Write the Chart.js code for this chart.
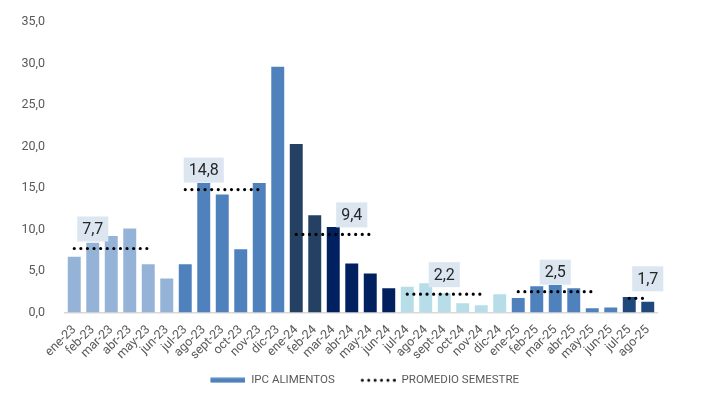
<!DOCTYPE html>
<html>
<head>
<meta charset="utf-8">
<script src="https://cdn.jsdelivr.net/npm/chart.js"></script>
<style>
  html, body { margin: 0; background: #fff; }
  #wrap { width: 720px; height: 399px; }
</style>
</head>
<body>
<div id="wrap"><canvas id="myChart"></canvas></div>
<script>
    // months on the x axis
    const months = ['ene-23', 'feb-23', 'mar-23', 'abr-23', 'may-23', 'jun-23',
        'jul-23', 'ago-23', 'sept-23', 'oct-23', 'nov-23', 'dic-23',
        'ene-24', 'feb-24', 'mar-24', 'abr-24', 'may-24', 'jun-24',
        'jul-24', 'ago-24', 'sept-24', 'oct-24', 'nov-24', 'dic-24',
        'ene-25', 'feb-25', 'mar-25', 'abr-25', 'may-25', 'jun-25',
        'jul-25', 'ago-25'];

    // monthly food CPI (%)
    const ipcAlimentos = [6.7, 8.4, 9.2, 10.1, 5.8, 4.1,
        5.8, 15.6, 14.2, 7.6, 15.6, 29.6,
        20.3, 11.7, 10.3, 5.9, 4.7, 2.9,
        3.1, 3.5, 2.3, 1.1, 0.85, 2.2,
        1.75, 3.15, 3.3, 2.9, 0.5, 0.6,
        1.85, 1.3];

    // semester average, drawn as dotted segments
    const promedioSemestre = [7.7, 7.7, 7.7, 7.7, 7.7, null,
        14.8, 14.8, 14.8, 14.8, 14.8, null,
        9.4, 9.4, 9.4, 9.4, 9.4, null,
        2.2, 2.2, 2.2, 2.2, 2.2, null,
        2.5, 2.5, 2.5, 2.5, 2.5, null,
        1.7, 1.7];

    // bar colour per semester
    const semColors = ['#95b3d7', '#4f81bd', '#244062', '#b7dee8', '#4f81bd', '#1f497d'];
    const barColors = months.map((m, i) => {
        if (i >= 12 && i < 14) return '#244062';
        if (i >= 14 && i < 18) return '#002060';
        return semColors[Math.floor(i / 6)];
    });

    const fmt = v => v.toFixed(1).replace('.', ',');

    // legend swatches (drawn at the right of a 59px box)
    function makeSwatch(kind) {
        const c = document.createElement('canvas');
        c.width = 59; c.height = 6;
        const g = c.getContext('2d');
        if (kind === 'bar') {
            g.fillStyle = '#4f81bd';
            g.fillRect(24, 0.5, 35, 5);
        } else {
            g.fillStyle = '#000';
            for (let i = 0; i < 6; i++) {
                g.beginPath();
                g.arc(25.5 + i * 6.4, 3, 1.5, 0, Math.PI * 2);
                g.fill();
            }
        }
        return c;
    }
    const barSwatch = makeSwatch('bar');
    const dotSwatch = makeSwatch('dots');

    // boxed value labels above each average line
    const avgLabels = {
        id: 'avgLabels',
        afterDatasetsDraw(chart, args, opts) {
            const { ctx, scales: { x, y } } = chart;
            ctx.save();
            ctx.font = '16px Roboto';
            ctx.textAlign = 'center';
            ctx.textBaseline = 'middle';
            opts.anchors.forEach(idx => {
                const v = promedioSemestre[idx];
                const txt = fmt(v);
                const cx = x.getPixelForValue(idx);
                const ly = y.getPixelForValue(v);
                const w = ctx.measureText(txt).width + 10;
                const h = 25;
                ctx.fillStyle = '#dce6f1';
                ctx.fillRect(cx - w / 2, ly - 7 - h, w, h);
                ctx.fillStyle = '#262626';
                ctx.fillText(txt, cx, ly - 7 - h / 2 + 1);
            });
            ctx.restore();
        }
    };

    Chart.defaults.font.family = 'Roboto';
    Chart.defaults.color = '#595959';

    var ctx = document.getElementById('myChart').getContext('2d');

    var myChart = new Chart(ctx, {
        type: 'bar',
        data: {
            labels: months,
            datasets: [{
                label: 'IPC ALIMENTOS',
                data: ipcAlimentos,
                backgroundColor: barColors,
                barPercentage: 0.7,
                categoryPercentage: 1,
                order: 2
            }, {
                type: 'line',
                label: 'PROMEDIO SEMESTRE',
                data: promedioSemestre,
                borderColor: '#000',
                borderWidth: 3.2,
                borderDash: [0, 6.6],
                borderCapStyle: 'round',
                pointRadius: 0,
                spanGaps: false,
                order: 1
            }]
        },
        options: {
            responsive: true,
            maintainAspectRatio: false,
            animation: false,
            layout: { padding: { left: 0, right: 14.5, top: 22, bottom: 3 } },
            scales: {
                x: {
                    grid: { display: false, drawTicks: false },
                    border: { color: '#d9d9d9', width: 1.5 },
                    ticks: {
                        autoSkip: false,
                        minRotation: 45,
                        maxRotation: 45,
                        padding: 10,
                        font: { size: 12.5 },
                        color: '#595959'
                    }
                },
                y: {
                    min: 0,
                    max: 35,
                    grid: { display: false },
                    border: { display: false },
                    afterFit: s => { s.width = 65; },
                    ticks: {
                        stepSize: 5,
                        padding: 12,
                        font: { size: 12.5 },
                        color: '#595959',
                        callback: v => fmt(v)
                    }
                },
                // empty right margin
                yR: {
                    position: 'right',
                    grid: { display: false },
                    border: { display: false },
                    ticks: { display: false },
                    afterFit: s => { s.width = 48.5; }
                }
            },
            plugins: {
                tooltip: { enabled: false },
                legend: {
                    position: 'bottom',
                    labels: {
                        usePointStyle: true,
                        pointStyleWidth: 59,
                        padding: 2,
                        font: { size: 11.5 },
                        color: '#595959',
                        generateLabels: () => [
                            { text: 'IPC ALIMENTOS', pointStyle: barSwatch, fillStyle: '#4f81bd', strokeStyle: '#4f81bd', lineWidth: 0, datasetIndex: 0, fontColor: '#595959' },
                            { text: 'PROMEDIO SEMESTRE', pointStyle: dotSwatch, fillStyle: '#000', strokeStyle: '#000', lineWidth: 0, datasetIndex: 1, fontColor: '#595959' }
                        ]
                    }
                },
                avgLabels: { anchors: [1, 7, 15, 20, 26, 31] }
            }
        },
        plugins: [avgLabels]
    });
</script>
</body>
</html>
